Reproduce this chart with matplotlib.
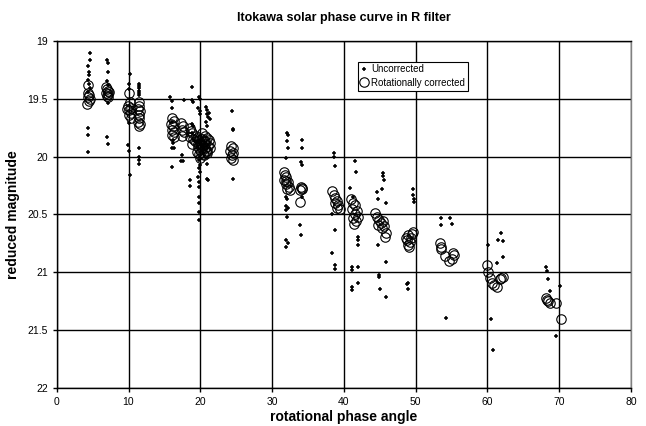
import matplotlib.pyplot as plt
from matplotlib.ticker import FuncFormatter

plt.rcParams['font.family'] = ['Liberation Sans', 'DejaVu Sans']

# phase angle (deg) and reduced R magnitude, rotationally corrected
corr_x = [4.3, 4.4, 4.5, 4.3, 4.6, 4.5, 4.2,
          6.8, 7.0, 7.2, 6.9, 7.1, 7.3, 7.0, 7.2,
          10.0, 10.2, 9.9, 10.3, 10.1, 10.4, 10.0, 10.3, 9.8,
          11.4, 11.5, 11.3, 11.6, 11.4, 11.5, 11.3, 11.6, 11.4,
          16.0, 16.3, 15.9, 16.2, 16.0, 16.4, 16.1, 16.3,
          17.3, 17.6, 17.4, 17.8, 17.5,
          18.5, 18.7, 18.9, 18.6, 19.0, 19.2, 18.8, 19.4,
          19.6, 19.8, 20.0, 20.2, 19.7, 19.9, 20.1, 19.8, 20.0, 20.3, 20.5, 20.7,
          20.4, 20.6, 20.8, 21.0, 21.2, 21.4, 21.1, 21.3, 20.9, 20.2, 20.6, 19.6, 20.4,
          19.9, 20.3, 20.7, 21.0, 20.5, 19.7, 20.1,
          24.3, 24.5, 24.2, 24.6, 24.4, 24.3, 24.5,
          31.6, 31.8, 32.0, 31.7, 32.2, 31.9, 32.3, 32.1, 32.5, 32.0,
          34.0, 34.2, 34.1, 33.9, 33.9,
          38.4, 38.6, 38.8, 39.0, 38.7, 39.2, 39.4, 39.1,
          41.0, 41.3, 41.6, 41.2, 41.8, 41.5, 42.0, 41.3, 41.7, 41.4,
          44.4, 44.6, 44.9, 45.2, 44.8, 45.4, 45.6, 45.3, 45.8, 45.7,
          48.6, 48.8, 49.0, 49.3, 49.5, 49.7, 49.2, 48.9, 49.1,
          53.4, 53.5, 53.6, 54.1, 54.7, 55.2, 55.3, 55.0,
          60.0, 60.1, 60.3, 60.6, 60.9, 61.3, 61.7, 62.1, 61.9,
          68.1, 68.3, 68.5, 68.7, 69.6, 70.2]
corr_m = [19.38, 19.45, 19.47, 19.49, 19.50, 19.52, 19.55,
          19.40, 19.42, 19.43, 19.45, 19.46, 19.44, 19.48, 19.49,
          19.45, 19.53, 19.56, 19.58, 19.60, 19.62, 19.64, 19.67, 19.59,
          19.53, 19.56, 19.59, 19.61, 19.64, 19.67, 19.70, 19.72, 19.74,
          19.67, 19.69, 19.72, 19.74, 19.77, 19.79, 19.81, 19.83,
          19.71, 19.74, 19.77, 19.79, 19.82,
          19.75, 19.78, 19.80, 19.83, 19.85, 19.87, 19.89, 19.82,
          19.84, 19.86, 19.88, 19.90, 19.92, 19.94, 19.96, 19.98, 20.01, 19.85, 19.87, 19.89,
          19.91, 19.93, 19.95, 19.84, 19.86, 19.88, 19.91, 19.93, 19.97, 19.80, 19.82, 19.96, 19.98,
          19.90, 19.93, 19.87, 19.95, 19.99, 19.89, 19.85,
          19.91, 19.93, 19.95, 19.97, 19.99, 20.01, 20.03,
          20.13, 20.16, 20.18, 20.20, 20.22, 20.24, 20.26, 20.28, 20.29, 20.21,
          20.26, 20.27, 20.28, 20.29, 20.39,
          20.30, 20.33, 20.36, 20.38, 20.40, 20.42, 20.45, 20.44,
          20.37, 20.40, 20.42, 20.45, 20.47, 20.50, 20.52, 20.53, 20.56, 20.58,
          20.49, 20.52, 20.55, 20.57, 20.59, 20.56, 20.60, 20.62, 20.66, 20.69,
          20.70, 20.72, 20.68, 20.70, 20.67, 20.65, 20.74, 20.76, 20.78,
          20.75, 20.78, 20.80, 20.86, 20.90, 20.83, 20.85, 20.88,
          20.94, 21.00, 21.05, 21.09, 21.11, 21.13, 21.06, 21.04, 21.05,
          21.22, 21.24, 21.25, 21.26, 21.26, 21.40]

# uncorrected single measurements
unc_x = [4.6, 4.6, 4.3, 4.5, 4.5, 4.4, 4.5, 4.6, 4.4, 4.3, 4.4, 4.3,
         7.0, 7.2, 7.1, 7.0, 7.2, 7.1, 7.0, 7.1,
         10.2, 10.0, 10.1, 10.0, 9.9, 10.1, 10.2,
         11.5, 11.5, 11.5, 11.5, 11.5, 11.5, 11.5, 11.5, 11.5, 11.5,
         15.8, 16.0, 16.1, 16.0, 16.2, 16.0, 16.1, 16.2, 16.3,
         17.8, 17.5, 17.6, 18.8, 17.3,
         18.9, 19.0, 18.9, 19.0, 18.9, 19.1, 18.6, 18.6,
         19.8, 19.9, 19.7, 19.9, 20.0, 19.8, 19.9, 19.8, 19.9, 19.7, 19.8,
         19.8, 19.8, 19.8, 19.8, 19.8,
         20.8, 21.0, 20.9, 21.1, 20.8, 21.0, 21.2, 21.4, 20.9, 21.0, 21.1,
         24.4, 24.5, 24.6, 24.5,
         32.1, 32.2, 32.1, 32.2, 32.0, 32.0, 32.1, 31.9, 32.0, 32.2, 32.1, 31.9, 32.2, 32.0,
         34.1, 34.2, 34.0, 34.1, 34.2, 33.9, 34.0,
         38.6, 38.6, 38.7, 38.3, 38.8, 38.4, 38.8, 38.8,
         41.5, 41.7, 40.9, 41.3, 41.9, 42.0, 41.9, 41.2, 41.2, 42.0, 41.1, 41.1, 41.9,
         45.5, 45.5, 45.6, 45.3, 44.6, 44.7, 45.8, 44.7, 45.8, 44.9, 44.9, 45.0, 45.8,
         49.7, 49.6, 49.8, 49.8, 48.9, 49.0, 48.8,
         53.5, 54.8, 53.5, 55.1, 54.2,
         60.1, 61.5, 62.1, 61.9, 61.3, 62.2, 60.5, 60.8,
         68.2, 68.3, 68.5, 68.7, 70.1, 69.6]
unc_m = [19.11, 19.17, 19.22, 19.27, 19.30, 19.34, 19.37, 19.41, 19.44, 19.75, 19.81, 19.96,
         19.17, 19.19, 19.27, 19.35, 19.38, 19.535, 19.83, 19.89,
         19.29, 19.37, 19.42, 19.71, 19.90, 19.95, 20.16,
         19.37, 19.39, 19.41, 19.43, 19.45, 19.47, 19.93, 20.00, 20.03, 20.06,
         19.49, 19.52, 19.58, 19.70, 19.86, 19.93, 20.09, 19.88, 19.93,
         19.51, 19.99, 20.04, 19.40, 20.04,
         19.51, 19.53, 19.72, 19.74, 19.80, 19.86, 20.20, 20.25,
         19.49, 19.50, 19.58, 19.61, 19.63, 20.03, 20.07, 20.10, 20.13, 20.18, 20.22,
         20.26, 20.35, 20.40, 20.48, 20.55,
         19.57, 19.60, 19.63, 19.66, 19.70, 19.74, 19.62, 19.68, 20.06, 20.19, 20.20,
         19.61, 19.76, 19.77, 20.19,
         19.80, 19.81, 19.87, 19.93, 20.01, 20.35, 20.37, 20.43, 20.46, 20.44, 20.52, 20.72, 20.75, 20.78,
         19.86, 19.93, 20.05, 20.07, 20.35, 20.59, 20.68,
         19.97, 20.00, 20.08, 20.50, 20.63, 20.83, 20.94, 20.97,
         20.04, 20.13, 20.27, 20.35, 20.69, 20.72, 20.76, 20.95, 20.98, 20.95, 21.13, 21.15, 21.09,
         20.14, 20.17, 20.20, 20.28, 20.31, 20.37, 20.40, 20.76, 20.91, 21.02, 21.04, 21.14, 21.21,
         20.28, 20.33, 20.37, 20.39, 21.09, 21.14, 21.10,
         20.53, 20.53, 20.59, 20.58, 21.39,
         20.76, 20.72, 20.73, 20.66, 20.92, 20.87, 21.40, 21.67,
         20.95, 20.99, 21.06, 21.16, 21.12, 21.55]

x_ticks = [0, 10, 20, 30, 40, 50, 60, 70, 80]
y_ticks = [19, 19.5, 20, 20.5, 21, 21.5, 22]

fig = plt.figure(figsize=(6.46, 4.26), dpi=100)
ax = fig.add_axes([0.0878, 0.0885, 0.889, 0.816])

ax.plot(unc_x, unc_m, linestyle='none', marker='+', markersize=3, markeredgewidth=1.1,
        color='black', label='Uncorrected')
ax.plot(corr_x, corr_m, linestyle='none', marker='o', markersize=6.8, markerfacecolor='none',
        markeredgecolor='black', markeredgewidth=0.8, label='Rotationally corrected')

ax.set_xlim(0, 80)
ax.set_ylim(22, 19)
ax.set_xticks(x_ticks)
ax.set_yticks(y_ticks)
ax.yaxis.set_major_formatter(FuncFormatter(lambda v, p: '%g' % v))
ax.grid(True, color='black', linewidth=1)
ax.set_axisbelow(True)
ax.tick_params(labelsize=7.5, length=3, width=1, direction='out')
for s in ax.spines.values():
    s.set_color('black')
    s.set_linewidth(1)
ax.spines['right'].set_color('#808080')

ax.set_title('Itokawa solar phase curve in R filter', fontsize=9, fontweight='bold', pad=14)
ax.set_xlabel('rotational phase angle', fontsize=10, fontweight='bold', labelpad=2)
ax.set_ylabel('reduced magnitude', fontsize=10, fontweight='bold', labelpad=5)

leg = ax.legend(loc='upper left', bbox_to_anchor=(0.525, 0.94), fontsize=7, frameon=True,
                fancybox=False, framealpha=1, edgecolor='black', handlelength=0.6,
                handletextpad=0.4, borderpad=0.3, labelspacing=0.35, borderaxespad=0)
leg.get_frame().set_linewidth(0.8)

fig.savefig('out.png', dpi=100)
